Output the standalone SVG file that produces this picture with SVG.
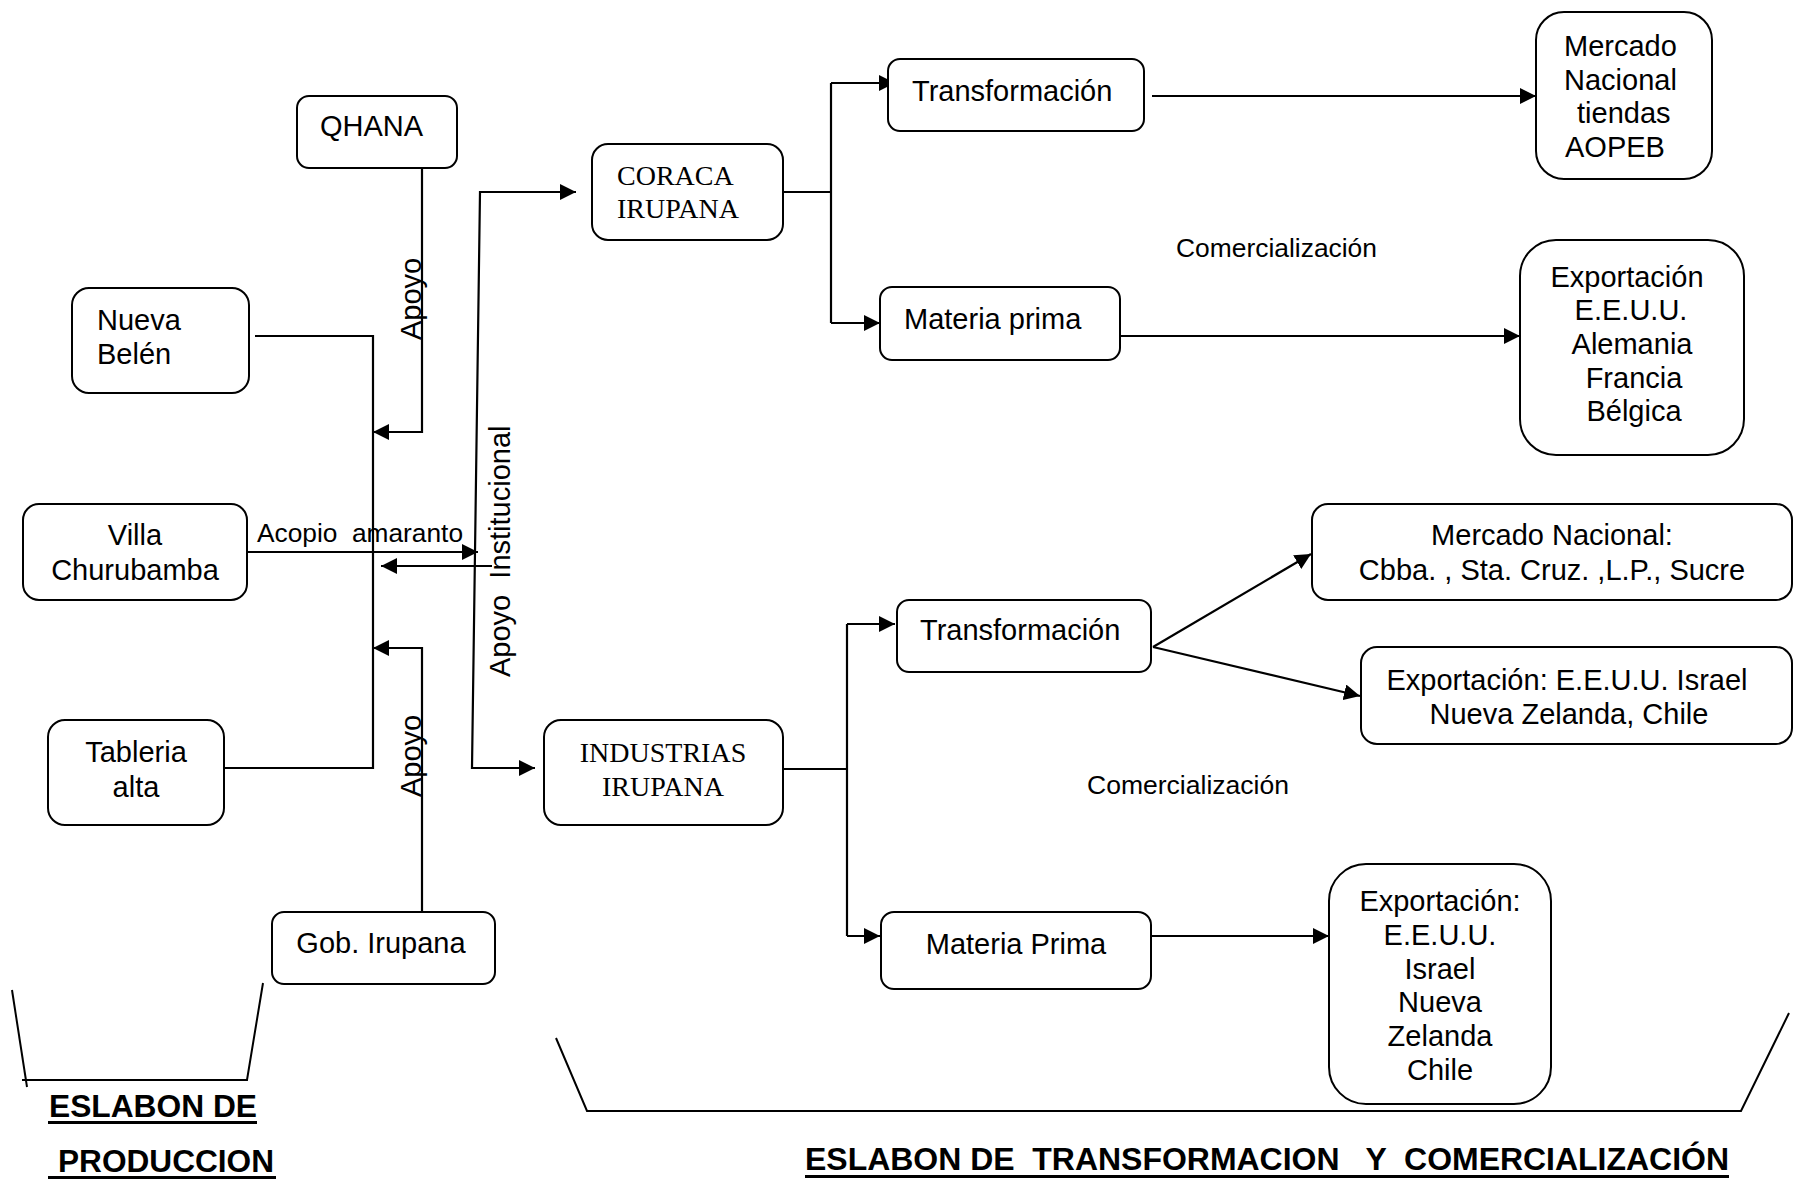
<svg xmlns="http://www.w3.org/2000/svg" width="1801" height="1181" viewBox="0 0 1801 1181">
<style>
.box{fill:#fff;stroke:#000;stroke-width:2}
.t{font-family:"Liberation Sans",Arial,sans-serif;font-size:29px;fill:#000}
.m{text-anchor:middle}
.s{font-family:"Liberation Serif","Times New Roman",serif;font-size:28px;fill:#000}
.lbl{font-family:"Liberation Sans",Arial,sans-serif;font-size:25px;fill:#000}
.ttl{font-family:"Liberation Sans",Arial,sans-serif;font-size:31px;font-weight:bold;fill:#000}
.c{fill:none;stroke:#000;stroke-width:2.2}
.br{fill:none;stroke:#000;stroke-width:2}
</style>
<defs>
<marker id="arr" viewBox="0 0 16 16" refX="16" refY="8" markerWidth="16" markerHeight="16" markerUnits="userSpaceOnUse" orient="auto-start-reverse">
<path d="M0,0 L16,8 L0,16 z" fill="#000"/>
</marker>
</defs>
<rect width="1801" height="1181" fill="#fff"/>

<g id="connectors">
<polyline class="c" points="255,336 373,336 373,768 223,768"/>
<polyline class="c" points="422,169 422,432 373,432" marker-end="url(#arr)"/>
<polyline class="c" points="422,912 422,648 373,648" marker-end="url(#arr)"/>
<line class="c" x1="247" y1="552" x2="478" y2="552" marker-end="url(#arr)"/>
<line class="c" x1="492" y1="566" x2="381" y2="566" marker-end="url(#arr)"/>
<polyline class="c" points="576,192 480,192 472,768 535,768" marker-start="url(#arr)" marker-end="url(#arr)"/>
<polyline class="c" points="783,192 831,192"/>
<polyline class="c" points="831,83 831,323"/>
<line class="c" x1="831" y1="83" x2="895" y2="83" marker-end="url(#arr)"/>
<line class="c" x1="831" y1="323" x2="880" y2="323" marker-end="url(#arr)"/>
<line class="c" x1="1152" y1="96" x2="1536" y2="96" marker-end="url(#arr)"/>
<line class="c" x1="1120" y1="336" x2="1520" y2="336" marker-end="url(#arr)"/>
<line class="c" x1="783" y1="769" x2="847" y2="769"/>
<line class="c" x1="847" y1="624" x2="847" y2="936"/>
<line class="c" x1="847" y1="624" x2="895" y2="624" marker-end="url(#arr)"/>
<line class="c" x1="847" y1="936" x2="880" y2="936" marker-end="url(#arr)"/>
<line class="c" x1="1153" y1="647" x2="1311" y2="554" marker-end="url(#arr)"/>
<line class="c" x1="1153" y1="647" x2="1360" y2="696" marker-end="url(#arr)"/>
<line class="c" x1="1151" y1="936" x2="1329" y2="936" marker-end="url(#arr)"/>
</g>

<g id="labels">
<text class="t" transform="translate(421,340) rotate(-90)">Apoyo</text>
<text class="t" transform="translate(421,797) rotate(-90)">Apoyo</text>
<text class="t" transform="translate(510,677) rotate(-90)" xml:space="preserve">Apoyo  Institucional</text>
<text class="lbl" x="257" y="542" textLength="206" lengthAdjust="spacingAndGlyphs" xml:space="preserve">Acopio  amaranto</text>
<text class="lbl" x="1176" y="257" textLength="201" lengthAdjust="spacingAndGlyphs">Comercialización</text>
<text class="lbl" x="1087" y="794" textLength="202" lengthAdjust="spacingAndGlyphs">Comercialización</text>
</g>

<g id="qhana">
<rect class="box" x="297" y="96" width="160" height="72" rx="12"/>
<text class="t" x="320" y="136">QHANA</text>
</g>
<g id="nueva-belen">
<rect class="box" x="72" y="288" width="177" height="105" rx="17"/>
<text class="t" x="97" y="330">Nueva</text>
<text class="t" x="97" y="364">Belén</text>
</g>
<g id="villa-churubamba">
<rect class="box" x="23" y="504" width="224" height="96" rx="16"/>
<text class="t m" x="135" y="545">Villa</text>
<text class="t m" x="135" y="580">Churubamba</text>
</g>
<g id="tableria-alta">
<rect class="box" x="48" y="720" width="176" height="105" rx="17"/>
<text class="t m" x="136" y="762">Tableria</text>
<text class="t m" x="136" y="797">alta</text>
</g>
<g id="gob-irupana">
<rect class="box" x="272" y="912" width="223" height="72" rx="12"/>
<text class="t m" x="381" y="953">Gob. Irupana</text>
</g>
<g id="coraca-irupana">
<rect class="box" x="592" y="144" width="191" height="96" rx="16"/>
<text class="s" x="617" y="185">CORACA</text>
<text class="s" x="617" y="218">IRUPANA</text>
</g>
<g id="industrias-irupana">
<rect class="box" x="544" y="720" width="239" height="105" rx="17"/>
<text class="s m" x="663" y="762">INDUSTRIAS</text>
<text class="s m" x="663" y="796">IRUPANA</text>
</g>
<g id="transformacion-1">
<rect class="box" x="888" y="59" width="256" height="72" rx="12"/>
<text class="t" x="912" y="101">Transformación</text>
</g>
<g id="materia-prima-1">
<rect class="box" x="880" y="287" width="240" height="73" rx="12"/>
<text class="t" x="904" y="329">Materia prima</text>
</g>
<g id="mercado-aopeb">
<rect class="box" x="1536" y="12" width="176" height="167" rx="28"/>
<text class="t" x="1564" y="56">Mercado</text>
<text class="t" x="1564" y="90">Nacional</text>
<text class="t" x="1577" y="123">tiendas</text>
<text class="t" x="1565" y="157">AOPEB</text>
</g>
<g id="exportacion-1">
<rect class="box" x="1520" y="240" width="224" height="215" rx="36"/>
<text class="t m" x="1627" y="287">Exportación</text>
<text class="t m" x="1631" y="320">E.E.U.U.</text>
<text class="t m" x="1632" y="354">Alemania</text>
<text class="t m" x="1634" y="388">Francia</text>
<text class="t m" x="1634" y="421">Bélgica</text>
</g>
<g id="mercado-nacional">
<rect class="box" x="1312" y="504" width="480" height="96" rx="16"/>
<text class="t m" x="1552" y="545">Mercado Nacional:</text>
<text class="t m" x="1552" y="580">Cbba. , Sta. Cruz. ,L.P., Sucre</text>
</g>
<g id="transformacion-2">
<rect class="box" x="897" y="600" width="254" height="72" rx="12"/>
<text class="t" x="920" y="640">Transformación</text>
</g>
<g id="exportacion-2">
<rect class="box" x="1361" y="647" width="431" height="97" rx="16"/>
<text class="t m" x="1567" y="690">Exportación: E.E.U.U. Israel</text>
<text class="t m" x="1569" y="724">Nueva Zelanda, Chile</text>
</g>
<g id="materia-prima-2">
<rect class="box" x="881" y="912" width="270" height="77" rx="13"/>
<text class="t m" x="1016" y="954">Materia Prima</text>
</g>
<g id="exportacion-3">
<rect class="box" x="1329" y="864" width="222" height="240" rx="37"/>
<text class="t m" x="1440" y="911">Exportación:</text>
<text class="t m" x="1440" y="945">E.E.U.U.</text>
<text class="t m" x="1440" y="979">Israel</text>
<text class="t m" x="1440" y="1012">Nueva</text>
<text class="t m" x="1440" y="1046">Zelanda</text>
<text class="t m" x="1440" y="1080">Chile</text>
</g>

<g id="eslabon-produccion">
<line class="br" x1="12" y1="990" x2="27" y2="1087"/>
<polyline class="br" points="22,1080 247,1080 263,983"/>
<text class="ttl" x="49" y="1117" textLength="208" lengthAdjust="spacingAndGlyphs">ESLABON DE</text>
<rect x="48" y="1121" width="209" height="3" fill="#000"/>
<text class="ttl" x="58" y="1172" textLength="216" lengthAdjust="spacingAndGlyphs">PRODUCCION</text>
<rect x="48" y="1176" width="228" height="3" fill="#000"/>
</g>
<g id="eslabon-transformacion">
<polyline class="br" points="556,1038 587,1111 1741,1111 1789,1013"/>
<text class="ttl" x="805" y="1170" textLength="924" lengthAdjust="spacingAndGlyphs" xml:space="preserve">ESLABON DE  TRANSFORMACION   Y  COMERCIALIZACIÓN</text>
<rect x="805" y="1175" width="924" height="3" fill="#000"/>
</g>
</svg>
